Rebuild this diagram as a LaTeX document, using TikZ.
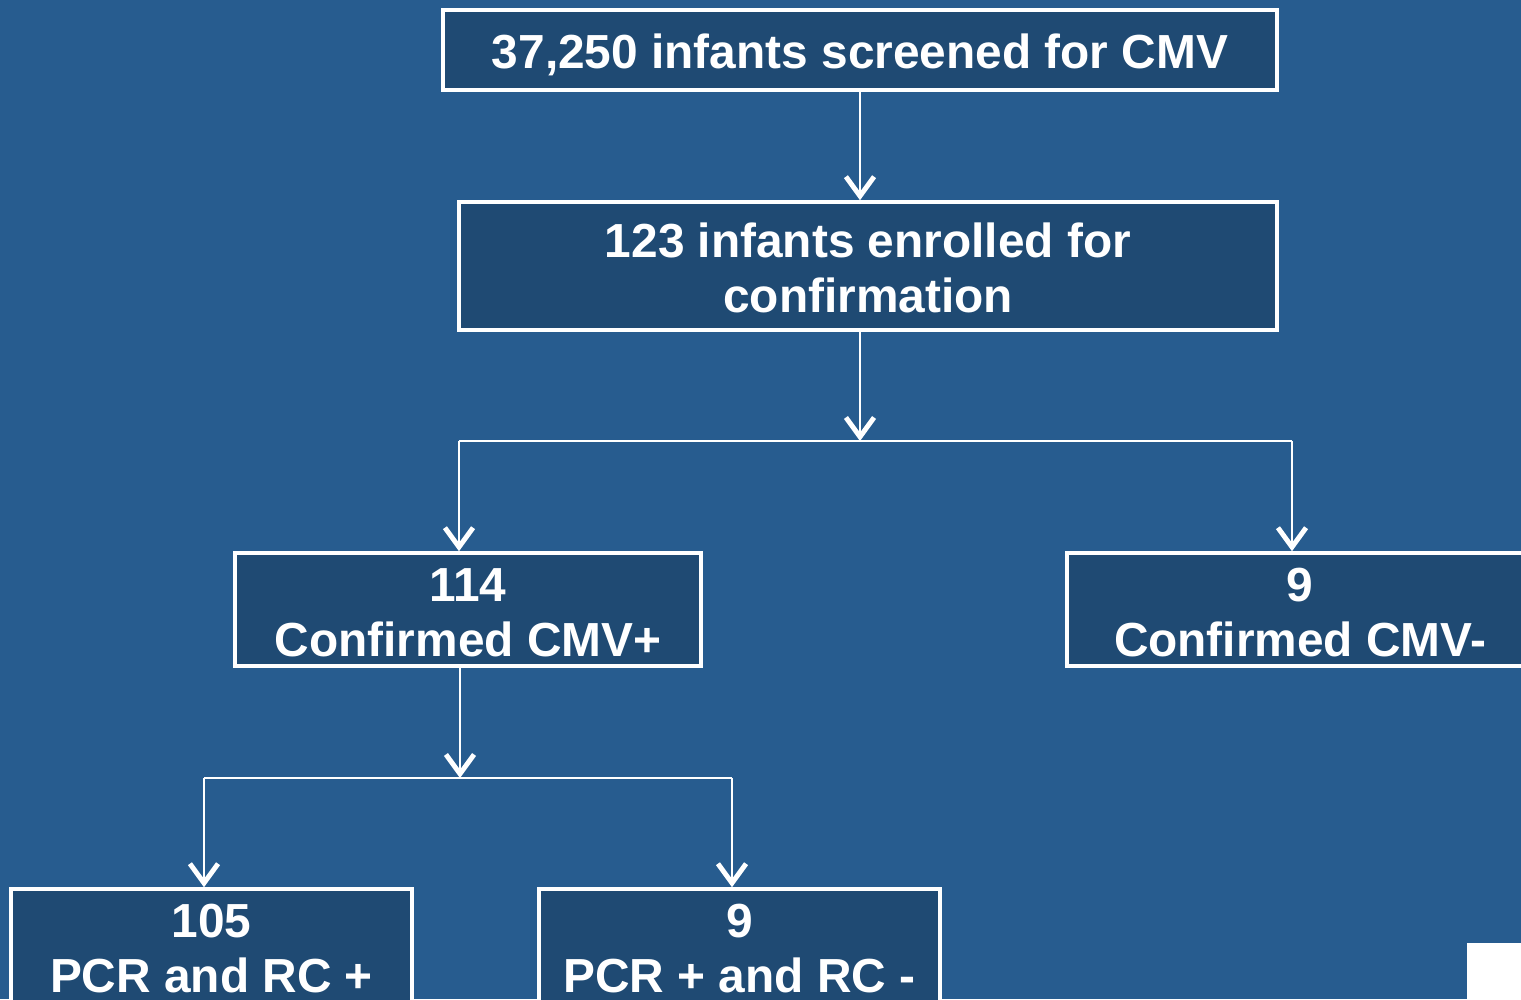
\documentclass[tikz,border=0pt]{standalone}
\usepackage{fontspec}
\setmainfont{Liberation Sans}
\usetikzlibrary{arrows.meta}
\definecolor{bgblue}{RGB}{39,92,143}
\definecolor{boxblue}{RGB}{31,74,115}
\newcommand{\lift}{\rule{0pt}{11.1pt}}
\tikzset{
  box/.style={draw=white, line width=1pt, fill=boxblue, rectangle, inner sep=0pt,
    align=center, text=white, font=\fontsize{13.6}{15.6}\selectfont\bfseries},
  conn/.style={draw=white, line width=0.55pt},
  arr/.style={conn, -{Straight Barb[length=5.5pt,width=8pt,line width=1.4pt]}}
}
\begin{document}
\begin{tikzpicture}[x=0.01cm,y=-0.01cm]
\useasboundingbox (0,0) rectangle (1521,999);
\clip (0,0) rectangle (1521,999);
\fill[bgblue] (0,0) rectangle (1521,999);
\node[box, minimum width=8.34cm, minimum height=0.80cm, text height=12.7pt] (b1) at (860,50) {37,250 infants screened for CMV};
\node[box, minimum width=8.18cm, minimum height=1.28cm] (b2) at (868,266) {\lift 123 infants enrolled for\\confirmation};
\node[box, minimum width=4.66cm, minimum height=1.13cm] (b3) at (468,609.5) {\lift 114\\Confirmed CMV+};
\node[box, minimum width=4.66cm, minimum height=1.13cm] (b4) at (1300,609.5) {\lift 9\\Confirmed CMV-};
\node[box, minimum width=4.01cm, minimum height=1.13cm] (b5) at (211.5,945.5) {\lift 105\\PCR and RC +};
\node[box, minimum width=4.01cm, minimum height=1.13cm] (b6) at (739.5,945.5) {\lift 9\\PCR + and RC -};
\coordinate (j1) at (860,441);
\coordinate (j1l) at (459,441);
\coordinate (j1r) at (1292,441);
\coordinate (j2) at (460,778);
\coordinate (j2l) at (204,778);
\coordinate (j2r) at (732,778);
\draw[arr] (b1.south) -- (b1.south |- b2.north);
\draw[arr] (b1.south |- b2.south) -- (j1);
\draw[conn] (j1l) -- (j1r);
\draw[arr] (j1l) -- (j1l |- b3.north);
\draw[arr] (j1r) -- (j1r |- b4.north);
\draw[arr] (j2 |- b3.south) -- (j2);
\draw[conn] (j2l) -- (j2r);
\draw[arr] (j2l) -- (j2l |- b5.north);
\draw[arr] (j2r) -- (j2r |- b6.north);
\fill[white] (1467,943) rectangle (1521,999);
\end{tikzpicture}
\end{document}
